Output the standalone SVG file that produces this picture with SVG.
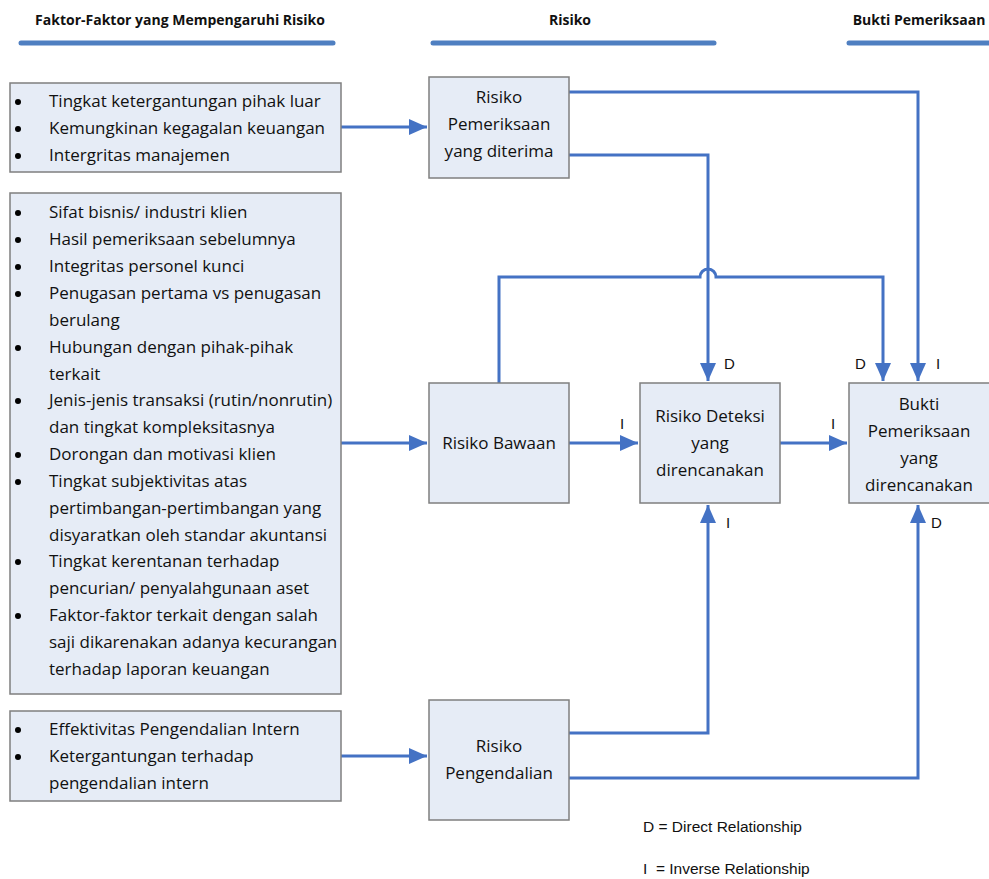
<svg xmlns="http://www.w3.org/2000/svg" width="989" height="879" viewBox="0 0 989 879">
<style>
.box{fill:#e6ecf6;stroke:#7f7f7f;stroke-width:1.5}
.t{font-family:"Open Sans","Liberation Sans",sans-serif;font-size:17px;fill:#111111}
.c{text-anchor:middle}
.h{font-family:"Open Sans","Liberation Sans",sans-serif;font-size:14px;font-weight:bold;fill:#111111;text-anchor:middle}
.hl{stroke:#4f7fc1;stroke-width:5;stroke-linecap:round}
.cn{fill:none;stroke:#4472c4;stroke-width:3}
.lb{font-family:"Liberation Sans",Arial,sans-serif;font-size:15px;fill:#111111}
.lg{font-family:"Liberation Sans",Arial,sans-serif;font-size:15.5px;fill:#111111}
.bu{fill:#000000}
</style>
<defs>
<marker id="ah" markerUnits="userSpaceOnUse" markerWidth="20" markerHeight="16" refX="18" refY="8" orient="auto">
<path d="M0,0 L18,8 L0,16 Z" fill="#4472c4"/>
</marker>
</defs>
<rect width="989" height="879" fill="#ffffff"/>
<g id="headers">
<text class="h" x="180" y="25">Faktor-Faktor yang Mempengaruhi Risiko</text>
<line class="hl" x1="21" y1="43" x2="333" y2="43"/>
<text class="h" x="570" y="25">Risiko</text>
<line class="hl" x1="433" y1="43" x2="714" y2="43"/>
<text class="h" x="919" y="25">Bukti Pemeriksaan</text>
<line class="hl" x1="849" y1="43" x2="992" y2="43"/>
</g>
<g id="connectors">
<path class="cn" d="M341,127 H427" marker-end="url(#ah)"/>
<path class="cn" d="M341,443 H427" marker-end="url(#ah)"/>
<path class="cn" d="M341,756 H427" marker-end="url(#ah)"/>
<path class="cn" d="M569,92 H918 V381" marker-end="url(#ah)"/>
<path class="cn" d="M569,155 H708 V381" marker-end="url(#ah)"/>
<path class="cn" d="M499,383 V277 H700 a8,8 0 0 1 16,0 H883 V381" marker-end="url(#ah)"/>
<path class="cn" d="M569,443 H638" marker-end="url(#ah)"/>
<path class="cn" d="M780,443 H847" marker-end="url(#ah)"/>
<path class="cn" d="M569,733 H708 V505" marker-end="url(#ah)"/>
<path class="cn" d="M569,778 H918 V505" marker-end="url(#ah)"/>
<text class="lb" x="724" y="369">D</text>
<text class="lb" x="855" y="369">D</text>
<text class="lb" x="936" y="369">I</text>
<text class="lb" x="620" y="429">I</text>
<text class="lb" x="831" y="429">I</text>
<text class="lb" x="726" y="528">I</text>
<text class="lb" x="931" y="528">D</text>
</g>
<g id="factors-1">
<rect class="box" x="10" y="83" width="331" height="89"/>
<circle class="bu" cx="18" cy="102" r="3"/><circle class="bu" cx="18" cy="129" r="3"/><circle class="bu" cx="18" cy="156" r="3"/>
<g class="t">
<text x="49" y="107">Tingkat ketergantungan pihak luar</text>
<text x="49" y="134">Kemungkinan kegagalan keuangan</text>
<text x="49" y="161">Intergritas manajemen</text>
</g>
</g>
<g id="factors-2">
<rect class="box" x="10" y="193" width="331" height="501"/>
<circle class="bu" cx="18" cy="213" r="3"/><circle class="bu" cx="18" cy="240" r="3"/><circle class="bu" cx="18" cy="267" r="3"/>
<circle class="bu" cx="18" cy="294" r="3"/><circle class="bu" cx="18" cy="348" r="3"/><circle class="bu" cx="18" cy="401" r="3"/>
<circle class="bu" cx="18" cy="455" r="3"/><circle class="bu" cx="18" cy="482" r="3"/><circle class="bu" cx="18" cy="562" r="3"/>
<circle class="bu" cx="18" cy="616" r="3"/>
<g class="t">
<text x="49" y="218">Sifat bisnis/ industri klien</text>
<text x="49" y="245">Hasil pemeriksaan sebelumnya</text>
<text x="49" y="272">Integritas personel kunci</text>
<text x="49" y="299">Penugasan pertama vs penugasan</text>
<text x="49" y="326">berulang</text>
<text x="49" y="353">Hubungan dengan pihak-pihak</text>
<text x="49" y="380">terkait</text>
<text x="49" y="406">Jenis-jenis transaksi (rutin/nonrutin)</text>
<text x="49" y="433">dan tingkat kompleksitasnya</text>
<text x="49" y="460">Dorongan dan motivasi klien</text>
<text x="49" y="487">Tingkat subjektivitas atas</text>
<text x="49" y="514">pertimbangan-pertimbangan yang</text>
<text x="49" y="541">disyaratkan oleh standar akuntansi</text>
<text x="49" y="567">Tingkat kerentanan terhadap</text>
<text x="49" y="594">pencurian/ penyalahgunaan aset</text>
<text x="49" y="621">Faktor-faktor terkait dengan salah</text>
<text x="49" y="648">saji dikarenakan adanya kecurangan</text>
<text x="49" y="675">terhadap laporan keuangan</text>
</g>
</g>
<g id="factors-3">
<rect class="box" x="10" y="711" width="331" height="90"/>
<circle class="bu" cx="18" cy="730" r="3"/><circle class="bu" cx="18" cy="757" r="3"/>
<g class="t">
<text x="49" y="735">Effektivitas Pengendalian Intern</text>
<text x="49" y="762">Ketergantungan terhadap</text>
<text x="49" y="789">pengendalian intern</text>
</g>
</g>
<g id="risiko-pemeriksaan">
<rect class="box" x="429" y="77" width="140" height="101"/>
<g class="t c">
<text x="499" y="103">Risiko</text>
<text x="499" y="130">Pemeriksaan</text>
<text x="499" y="157">yang diterima</text>
</g>
</g>
<g id="risiko-bawaan">
<rect class="box" x="429" y="383" width="140" height="120"/>
<text class="t c" x="499" y="449">Risiko Bawaan</text>
</g>
<g id="risiko-deteksi">
<rect class="box" x="640" y="383" width="140" height="120"/>
<g class="t c">
<text x="710" y="422">Risiko Deteksi</text>
<text x="710" y="449">yang</text>
<text x="710" y="476">direncanakan</text>
</g>
</g>
<g id="bukti">
<rect class="box" x="849" y="383" width="142" height="120"/>
<g class="t c">
<text x="919" y="410">Bukti</text>
<text x="919" y="437">Pemeriksaan</text>
<text x="919" y="464">yang</text>
<text x="919" y="491">direncanakan</text>
</g>
</g>
<g id="risiko-pengendalian">
<rect class="box" x="429" y="700" width="140" height="120"/>
<g class="t c">
<text x="499" y="752">Risiko</text>
<text x="499" y="779">Pengendalian</text>
</g>
</g>
<g id="legend">
<text class="lg" x="643" y="832">D = Direct Relationship</text>
<text class="lg" x="643" y="874" xml:space="preserve">I  = Inverse Relationship</text>
</g>
</svg>
